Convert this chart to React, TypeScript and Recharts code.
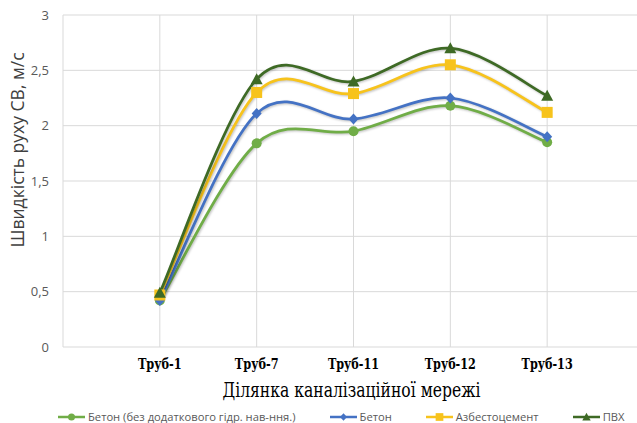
import React from 'react'
import { LineChart, Line, XAxis, YAxis, CartesianGrid } from 'recharts'

// categories (empty ones at both ends, as on the original sheet)
const sections = ['', 'Труб-1', 'Труб-7', 'Труб-11', 'Труб-12', 'Труб-13', '']

// speeds, m/s
const concreteBare = [null, 0.42, 1.84, 1.95, 2.18, 1.85, null]
const concrete = [null, 0.42, 2.11, 2.06, 2.25, 1.9, null]
const asbestos = [null, 0.47, 2.3, 2.29, 2.55, 2.12, null]
const pvc = [null, 0.49, 2.42, 2.4, 2.7, 2.27, null]

const yTicks = [0, 0.5, 1, 1.5, 2, 2.5, 3]

const seriesNames = [
  'Бетон (без додаткового гідр. нав-ння.)',
  'Бетон',
  'Азбестоцемент',
  'ПВХ',
]
const seriesColors = ['#70ad47', '#4472c4', '#f7c31c', '#3e6a25']
const seriesMarkers = ['circle', 'diamond', 'square', 'triangle']

const serif = "'DejaVu Serif', serif"
const sans = "'Open Sans', 'Noto Sans', sans-serif"

const data = sections.map((s, i) => ({
  s,
  a: concreteBare[i],
  b: concrete[i],
  c: asbestos[i],
  d: pvc[i],
}))

// excel-like smoothed line (catmull-rom through the points)
function smoothCurve(context: any) {
  let pts: number[][] = []
  return {
    areaStart() {},
    areaEnd() {},
    lineStart() {
      pts = []
    },
    lineEnd() {
      if (!pts.length) return
      context.moveTo(pts[0][0], pts[0][1])
      for (let i = 0; i < pts.length - 1; i++) {
        const p0 = pts[i - 1] || pts[i]
        const p1 = pts[i]
        const p2 = pts[i + 1]
        const p3 = pts[i + 2] || p2
        context.bezierCurveTo(
          p1[0] + (p2[0] - p0[0]) / 6,
          p1[1] + (p2[1] - p0[1]) / 6,
          p2[0] - (p3[0] - p1[0]) / 6,
          p2[1] - (p3[1] - p1[1]) / 6,
          p2[0],
          p2[1]
        )
      }
    },
    point(x: number, y: number) {
      pts.push([+x, +y])
    },
  }
}

function Marker({ kind, x, y, color, s = 1 }: { kind: string; x: number; y: number; color: string; s?: number }) {
  if (kind === 'circle') return <circle cx={x} cy={y} r={5 * s} fill={color} />
  if (kind === 'diamond')
    return (
      <path
        d={`M${x},${y - 5.5 * s}L${x + 5 * s},${y}L${x},${y + 5.5 * s}L${x - 5 * s},${y}Z`}
        fill={color}
      />
    )
  if (kind === 'square')
    return <rect x={x - 5.5 * s} y={y - 5.5 * s} width={11 * s} height={11 * s} fill={color} />
  return <path d={`M${x},${y - 6 * s}L${x + 6 * s},${y + 5 * s}L${x - 6 * s},${y + 5 * s}Z`} fill={color} />
}

const makeDot = (k: number) => (props: any) => {
  const { cx, cy, value, index } = props
  if (value == null || cy == null) return <g key={`d${k}-${index}`} />
  return (
    <g key={`d${k}-${index}`}>
      <Marker kind={seriesMarkers[k]} x={cx} y={cy} color={seriesColors[k]} />
    </g>
  )
}

// times-like narrow bold labels, squeezed out of DejaVu Serif
function SectionTick(props: any) {
  const { x, y, payload } = props
  const label = payload.value
  if (!label) return <g />
  return (
    <text
      x={x}
      y={y + 22}
      textAnchor="middle"
      fontFamily={serif}
      fontWeight="bold"
      fontSize={14.5}
      fill="#000"
      textLength={label.length * 7.3}
      lengthAdjust="spacingAndGlyphs"
    >
      {label}
    </text>
  )
}

const keys = ['a', 'b', 'c', 'd']

export default function App() {
  return (
    <div
      style={{
        position: 'absolute',
        left: 0,
        top: 0,
        width: 637,
        height: 423,
        overflow: 'hidden',
        background: '#fff',
      }}
    >
      <style>{`.soft-shadow { filter: drop-shadow(1px 1.5px 1px rgba(0,0,0,0.25)); }`}</style>
      <LineChart
        width={650}
        height={423}
        data={data}
        margin={{ top: 15, right: 6, left: 18, bottom: 46 }}
      >
        <CartesianGrid stroke="#d9d9d9" strokeWidth={1} />
        <XAxis
          dataKey="s"
          interval={0}
          axisLine={false}
          tickLine={false}
          tickSize={0}
          tickMargin={0}
          height={30}
          tick={<SectionTick />}
          label={{
            content: (p: any) => {
              const vb = p.viewBox || {}
              return (
                <text
                  x={vb.x + vb.width / 2 - 2}
                  y={397}
                  textAnchor="middle"
                  fontSize={19.5}
                  fontFamily={serif}
                  fill="#000"
                  textLength={258}
                  lengthAdjust="spacingAndGlyphs"
                >
                  Ділянка каналізаційної мережі
                </text>
              )
            },
          }}
        />
        <YAxis
          domain={[0, 3]}
          ticks={yTicks}
          width={45}
          axisLine={false}
          tickLine={false}
          tickSize={0}
          tickMargin={14}
          tickFormatter={(v: number) => String(v).replace('.', ',')}
          tick={{ fontSize: 13, fill: '#595959', fontFamily: sans }}
          label={{
            content: () => (
              <text
                x={0}
                y={0}
                transform="translate(24,150) rotate(-90)"
                textAnchor="middle"
                fontSize={17.5}
                fontFamily={sans}
                fill="#404040"
              >
                Швидкість руху СВ, м/с
              </text>
            ),
          }}
        />
        {keys.map((k, i) => (
          <Line
            key={k}
            className="soft-shadow"
            dataKey={k}
            type={smoothCurve as any}
            stroke={seriesColors[i]}
            strokeWidth={2.75}
            dot={makeDot(i)}
            activeDot={false}
            isAnimationActive={false}
          />
        ))}
      </LineChart>
      <div
        style={{
          position: 'absolute',
          left: 58,
          top: 410,
          height: 13,
          display: 'flex',
          gap: 34,
          fontFamily: sans,
          fontSize: 11.2,
          lineHeight: '13px',
          color: '#595959',
          whiteSpace: 'nowrap',
        }}
      >
        {seriesNames.map((n, i) => (
          <div key={n} style={{ display: 'flex', alignItems: 'center', gap: 3 }}>
            <svg width={27} height={12}>
              <line x1={0} y1={6} x2={27} y2={6} stroke={seriesColors[i]} strokeWidth={2.5} />
              <Marker kind={seriesMarkers[i]} x={13.5} y={6} color={seriesColors[i]} s={0.7} />
            </svg>
            <span>{n}</span>
          </div>
        ))}
      </div>
    </div>
  )
}
